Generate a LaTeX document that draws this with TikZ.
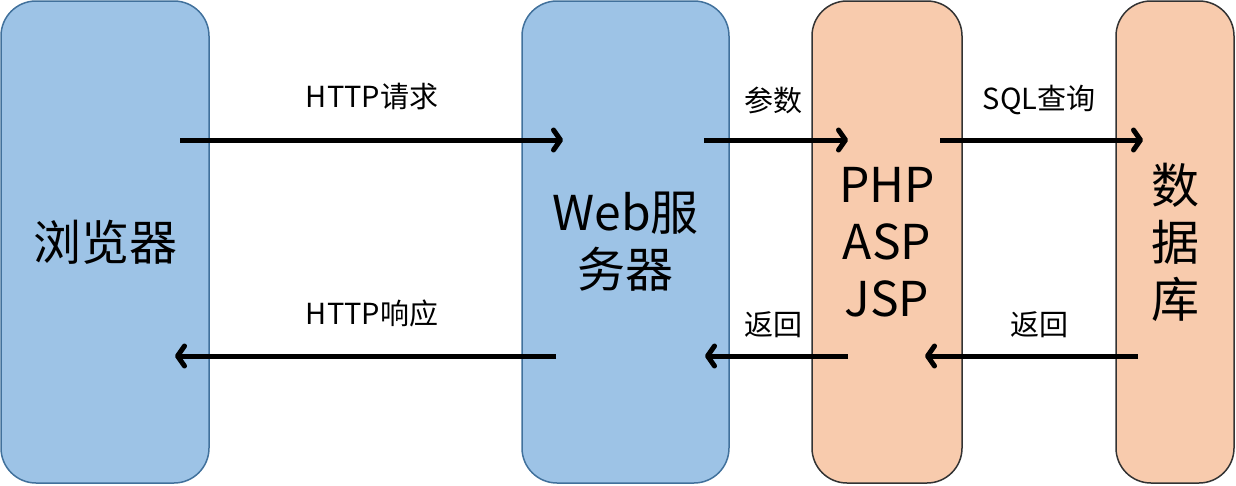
\documentclass[tikz,border=0pt]{standalone}
\usepackage{fontspec}
\setmainfont{Noto Sans CJK SC}
\usepackage{tikz}
\usetikzlibrary{arrows.meta}
\definecolor{boxblue}{HTML}{9DC3E6}
\definecolor{edgeblue}{HTML}{41719C}
\definecolor{boxorange}{HTML}{F8CBAD}
\tikzset{
 tier/.style = {rounded corners=35pt, line width=1.5pt, inner sep=0pt, minimum height=482pt, align=center, font=\fontsize{48}{57}\selectfont},
 front/.style = {tier, draw=edgeblue, fill=boxblue},
 back/.style = {tier, draw=black!80, fill=boxorange},
 flow/.style = {line width=5pt, -{Straight Barb[length=7pt,width=20pt,line cap=round,line join=round]}},
 msg/.style = {font=\fontsize{29}{32}\selectfont}
}

\begin{document}
\begin{tikzpicture}[x=1pt, y=-1pt]
\useasboundingbox (0,0) rectangle (1236,485);
\node[front, minimum width=208pt] (browser) at (105,242) {浏览器};
\node[front, minimum width=207pt] (web) at (625.5,242) {Web服\\务器};
\node[back, minimum width=150pt] (script) at (887,242) {PHP\\ASP\\JSP};
\node[back, minimum width=118pt] (db) at (1175,242) {数\\据\\库};
% request path
\coordinate (req-a) at (180,140);   \coordinate (req-b) at (563,140);
\coordinate (par-a) at (704,140);   \coordinate (par-b) at (848,140);
\coordinate (sql-a) at (940,140);   \coordinate (sql-b) at (1143,140);
% response path
\coordinate (res-a) at (556,356);   \coordinate (res-b) at (175,356);
\coordinate (ret-a) at (848,356);   \coordinate (ret-b) at (705,356);
\coordinate (dbr-a) at (1138,356);  \coordinate (dbr-b) at (925,356);
\foreach \s in {req,par,sql,res,ret,dbr} {
 \draw[flow] (\s-a) -- (\s-b);
}
\node[msg] (lreq) at (372,97) {HTTP请求};
\node[msg] (lpar) at (773,100) {参数};
\node[msg] (lsql) at (1039,100) {SQL查询};
\node[msg] (lres) at (372,313) {HTTP响应};
\node[msg] (lret) at (773,325) {返回};
\node[msg] (ldbr) at (1039,325) {返回};
\end{tikzpicture}
\end{document}
